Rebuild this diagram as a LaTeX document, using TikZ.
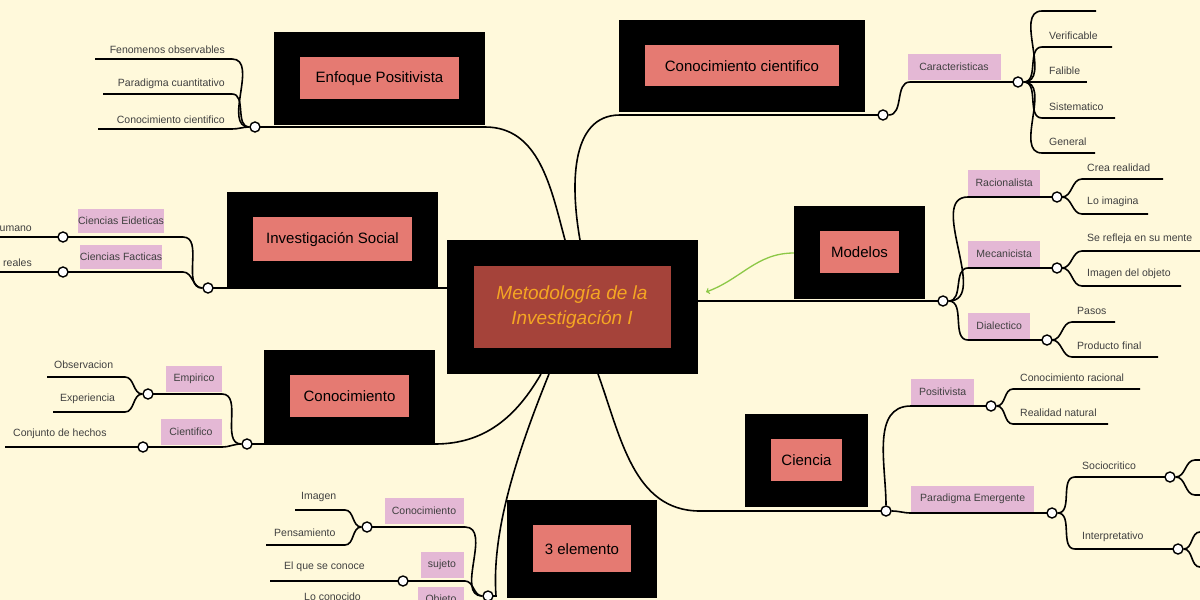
\documentclass[tikz,border=0pt]{standalone}
\usepackage{fontspec}
\setmainfont{Liberation Sans}
\begin{document}
\begin{tikzpicture}[x=1pt,y=-1pt,
 ln/.style={line width=1.6pt,black},
 hub/.style={circle,draw=black,line width=1.4pt,fill=white,inner sep=0pt,minimum size=10pt},
 lf/.style={font=\fontsize{10.5}{12}\selectfont,text=black!75,inner sep=1pt},
 pk/.style={fill=pinkc,font=\fontsize{10.5}{12}\selectfont,text=black!75,inner sep=0pt}]
\definecolor{bgc}{HTML}{FFF9DB}
\definecolor{salmonc}{HTML}{E57A72}
\definecolor{pinkc}{HTML}{E4B8D5}
\definecolor{darkred}{HTML}{A5433A}
\definecolor{orangec}{HTML}{F5A623}
\fill[bgc] (0,0) rectangle (1200,600);
\useasboundingbox (0,0) rectangle (1200,600);
\newcommand{\tbox}[6]{\fill (#1,#2) rectangle (#3,#4);\fill[salmonc] (#1+26,#2+25) rectangle (#3-26,#4-26);\node[font=\fontsize{15}{18}\selectfont] (#6) at ({(#1+#3)/2},{(#2+#4)/2}) {#5};}
\coordinate (cT1) at (565,240); \coordinate (cT2) at (580,240);
\coordinate (cL) at (447,288); \coordinate (cB1) at (541,374);
\coordinate (cB2) at (549,374); \coordinate (cB3) at (598,374);
\coordinate (cR) at (698,301); \coordinate (mw) at (794,253);
\coordinate (cA) at (706,292);
% Enfoque Positivista
\draw[ln] (cT1) to[out=105,in=0] (485,127) -- (255,127);
\node[hub] (h1) at (255,127) {};
\foreach \y/\xs/\t in {59/95/Fenomenos observables,94/103/Paradigma cuantitativo,129/98/Conocimiento cientifico}{
 \draw[ln] (h1) to[out=180,in=0] (232,\y) -- (\xs,\y);
 \node[lf,anchor=south east] at (226,\y-4) {\t};}
% Investigación Social
\draw[ln] (cL) -- (208,288);
\node[hub] (h2) at (208,288) {};
\draw[ln] (h2) to[out=180,in=0] (183,237) -- (0,237);
\draw[ln] (h2) to[out=180,in=0] (183,272) -- (0,272);
\node[hub] (h2a) at (63,237) {}; \node[hub] (h2b) at (63,272) {};
\node[pk,minimum width=78pt,minimum height=24pt] at (121,221) {Ciencias Eideticas};
\node[pk,minimum width=78pt,minimum height=24pt] at (121,257) {Ciencias Facticas};
\node[lf,anchor=south east] at (33,233) {umano};
\node[lf,anchor=south east] at (33,268) {reales};
% Conocimiento
\draw[ln] (cB1) to[out=240,in=0] (435,444) -- (247,444);
\node[hub] (h3) at (247,444) {};
\draw[ln] (h3) to[out=180,in=0] (222,394) -- (148,394);
\draw[ln] (h3) to[out=180,in=0] (222,447) -- (5,447);
\node[hub] (h3a) at (148,394) {}; \node[hub] (h3b) at (143,447) {};
\draw[ln] (h3a) to[out=180,in=0] (125,377) -- (47,377);
\draw[ln] (h3a) to[out=180,in=0] (125,412) -- (53,412);
\node[lf,anchor=south west] at (53,370) {Observacion};
\node[lf,anchor=south west] at (59,405) {Experiencia};
\node[lf,anchor=south west] at (12,440) {Conjunto de hechos};
\node[pk,minimum width=56pt,minimum height=26pt] at (194,379) {Empirico};
\node[pk,minimum width=61pt,minimum height=26pt] at (191,432) {Cientifico};
% 3 elemento
\draw[ln] (cB2) .. controls (510,470) and (492,540) .. (496,596) -- (488,596);
\node[hub] (h4) at (488,596) {};
\draw[ln] (h4) to[out=180,in=0] (465,527) -- (367,527);
\draw[ln] (h4) to[out=180,in=0] (465,581) -- (270,581);
\node[hub] (h4a) at (367,527) {}; \node[hub] (h4b) at (403,581) {};
\draw[ln] (h4a) to[out=180,in=0] (345,510) -- (295,510);
\draw[ln] (h4a) to[out=180,in=0] (345,545) -- (266,545);
\node[lf,anchor=south west] at (300,503) {Imagen};
\node[lf,anchor=south west] at (273,538) {Pensamiento};
\node[lf,anchor=south west] at (283,573) {El que se conoce};
\node[lf,anchor=north west] at (303,592) {Lo conocido};
\node[pk,minimum width=79pt,minimum height=26pt] at (424,511) {Conocimiento};
\node[pk,minimum width=43pt,minimum height=26pt] at (442,565) {sujeto};
\node[pk,minimum width=46pt,minimum height=26pt,anchor=north] at (441,587) {Objeto};
% Conocimiento cientifico
\draw[ln] (cT2) to[out=100,in=180] (620,115) -- (883,115);
\node[hub] (h5) at (883,115) {};
\draw[ln] (h5) to[out=0,in=180] (910,82) -- (1018,82);
\node[hub] (h5a) at (1018,82) {};
\node[pk,minimum width=93pt,minimum height=26pt] at (954,67) {Caracteristicas};
\foreach \y/\xe/\t in {11/1096/{},47/1112/Verificable,82/1087/Falible,118/1115/Sistematico,153/1095/General}{
 \draw[ln] (h5a) to[out=0,in=180] (1042,\y) -- (\xe,\y);
 \node[lf,anchor=south west] at (1048,\y-6) {\t};}
% Modelos
\draw[ln] (cR) -- (943,301);
\draw[->,line width=1.3pt,color={rgb,255:red,140;green,200;blue,70}] (mw) to[out=180,in=20] (cA);
\node[hub] (h6) at (943,301) {};
\foreach \yy/\x/\t/\w/\aa/\ta/\ab/\tb/\ea/\eb in {197/1057/Racionalista/72/179/Crea realidad/214/Lo imagina/1163/1148,268/1057/Mecanicista/72/251/Se refleja en su mente/286/Imagen del objeto/1205/1181,340/1047/Dialectico/62/322/Pasos/357/Producto final/1115/1158}{
 \draw[ln] (h6) to[out=0,in=180] (968,\yy) -- (\x,\yy);
 \node[hub] at (\x,\yy) {};
 \node[pk,minimum width=\w pt,minimum height=26pt,anchor=south west] at (968,\yy-1) {\t};
 \draw[ln] (\x+5,\yy) to[out=0,in=180] (\x+25,\aa) -- (\ea,\aa);
 \draw[ln] (\x+5,\yy) to[out=0,in=180] (\x+25,\ab) -- (\eb,\ab);
 \node[lf,anchor=south west] at (\x+29,\aa-6) {\ta};
 \node[lf,anchor=south west] at (\x+29,\ab-6) {\tb};}
% Ciencia
\draw[ln] (cB3) to[out=290,in=180] (700,511) -- (886,511);
\node[hub] (h7) at (886,511) {};
\draw[ln] (h7) to[out=90,in=180] (911,406) -- (991,406);
\draw[ln] (h7) to[out=0,in=180] (911,513) -- (1052,513);
\node[hub] (h7a) at (991,406) {}; \node[hub] (h7b) at (1052,513) {};
\node[pk,minimum width=63pt,minimum height=26pt,anchor=south west] at (911,405) {Positivista};
\node[pk,minimum width=123pt,minimum height=26pt,anchor=south west] at (911,512) {Paradigma Emergente};
\draw[ln] (h7a) to[out=0,in=180] (1013,389) -- (1140,389);
\draw[ln] (h7a) to[out=0,in=180] (1013,424) -- (1108,424);
\node[lf,anchor=south west] at (1019,383) {Conocimiento racional};
\node[lf,anchor=south west] at (1019,418) {Realidad natural};
\draw[ln] (h7b) to[out=0,in=180] (1075,477) -- (1170,477);
\draw[ln] (h7b) to[out=0,in=180] (1075,549) -- (1178,549);
\node[lf,anchor=south west] at (1081,471) {Sociocritico};
\node[lf,anchor=south west] at (1081,543) {Interpretativo};
\node[hub] (h7c) at (1170,477) {}; \node[hub] (h7d) at (1178,549) {};
\draw[ln] (h7c) to[out=0,in=180] (1195,460) -- (1205,460);
\draw[ln] (h7c) to[out=0,in=180] (1195,495) -- (1205,495);
\draw[ln] (h7d) to[out=0,in=180] (1200,532) -- (1205,532);
\draw[ln] (h7d) to[out=0,in=180] (1200,567) -- (1205,567);
% ---- boxes on top
\fill (447,240) rectangle (698,374);
\fill[darkred] (474,266) rectangle (671,348);
\node[text=orangec,font=\fontsize{19}{25}\selectfont\itshape,align=center] (ct) at (572,307) {Metodología de la\\Investigación I};
\tbox{274}{32}{485}{125}{Enfoque Positivista}{ep}
\tbox{227}{192}{438}{287}{Investigación Social}{is}
\tbox{264}{350}{435}{443}{Conocimiento}{kn}
\tbox{507}{500}{657}{598}{3 elemento}{te}
\tbox{619}{20}{865}{112}{Conocimiento cientifico}{cc}
\tbox{794}{206}{925}{299}{Modelos}{mo}
\tbox{745}{414}{868}{507}{Ciencia}{ci}
\end{tikzpicture}
\end{document}
